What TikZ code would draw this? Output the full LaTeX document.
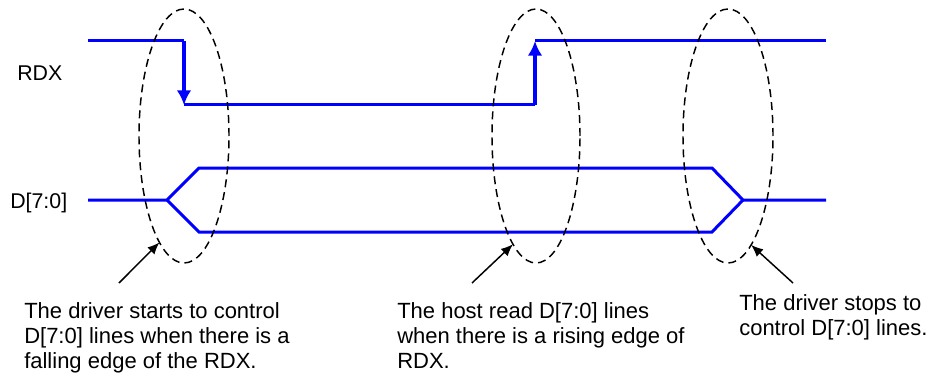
\documentclass[tikz,border=0pt]{standalone}
\usepackage{fontspec}
\setmainfont{Liberation Sans}
\usetikzlibrary{arrows.meta,shapes.geometric}
\definecolor{sigblue}{RGB}{0,0,255}
\tikzset{
  sig/.style={draw=sigblue, line width=2.25pt, line join=miter},
  edge/.style={draw=sigblue, line width=3pt, -{Latex[length=11pt,width=11pt]}},
  zone/.style={ellipse, draw=black, dash pattern=on 6pt off 3.75pt, line width=1.1pt,
    minimum width=67.5pt, minimum height=190.5pt, inner sep=0pt, outer sep=0pt},
  pointer/.style={draw=black, line width=1.1pt, -{Latex[length=9pt,width=7.5pt]}},
  lbl/.style={inner sep=0pt, font=\fontsize{16}{19}\selectfont},
  note/.style={inner sep=0pt, font=\fontsize{16.5}{19}\selectfont, anchor=north west, align=left},
}
\begin{document}
\begin{tikzpicture}[x=0.75pt,y=-0.75pt]
\useasboundingbox (0,0) rectangle (932,378);

% labels
\node[lbl, anchor=base west] (rdx) at (17,80) {RDX};
\node[lbl, anchor=base west] (dbus) at (10,208) {D[7:0]};

% RDX signal
\coordinate (r0) at (88,41);
\coordinate (r1) at (184,41);
\coordinate (r2) at (184,105);
\coordinate (r3) at (535,105);
\coordinate (r4) at (535,41);
\coordinate (r5) at (826,41);
\draw[sig] (r0) -- (r1);
\draw[edge] (r1) -- (r2);
\draw[sig] (r2) -- (r3);
\draw[edge] (r3) -- (r4);
\draw[sig] (r4) -- (r5);

% D[7:0] bus
\coordinate (d0) at (88,200);
\coordinate (d1) at (167,200);
\coordinate (dt1) at (199,168);
\coordinate (db1) at (199,232);
\coordinate (dt2) at (712,168);
\coordinate (db2) at (712,232);
\coordinate (d2) at (743,200);
\coordinate (d3) at (826,200);
\draw[sig] (d0) -- (d1) -- (dt1) -- (dt2) -- (d2) -- (d3);
\draw[sig] (d1) -- (db1) -- (db2) -- (d2);

% dashed zones
\node[zone] (z1) at (184,136) {};
\node[zone, minimum width=66pt] (z2) at (536,136) {};
\node[zone] (z3) at (728,136) {};

% notes
\node[note] (n1) at (24,302) {The driver starts to control\\D[7:0] lines when there is a\\falling edge of the RDX.};
\node[note] (n2) at (397,302) {The host read D[7:0] lines\\when there is a rising edge of\\RDX.};
\node[note] (n3) at (739,294) {The driver stops to\\control D[7:0] lines.};

% pointers
\coordinate (p1) at (119,283);
\coordinate (p2) at (472,283);
\coordinate (p3) at (793,283);
\draw[pointer] (p1) -- (z1.257.6);
\draw[pointer] (p2) -- (z2.258);
\draw[pointer] (p3) -- (z3.282.9);
\end{tikzpicture}
\end{document}
